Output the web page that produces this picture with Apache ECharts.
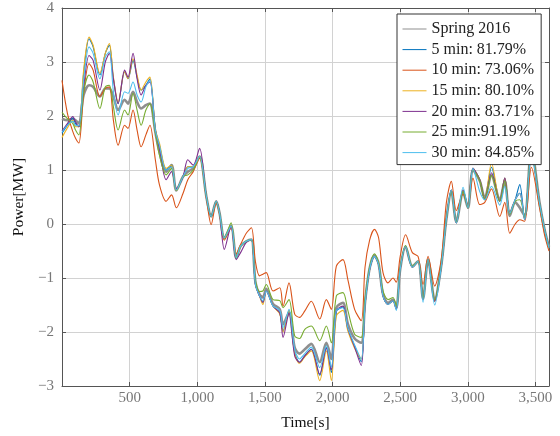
<!DOCTYPE html>
<html>
<head>
<meta charset="utf-8">
<script src="https://cdn.jsdelivr.net/npm/echarts@6/dist/echarts.min.js"></script>
<style>
  html, body { margin: 0; padding: 0; background: #fff; }
  #chart { width: 560px; height: 436px; }
</style>
</head>
<body>
<div id="chart"></div>
<script>
const times = [0, 40, 80, 100, 125, 160, 200, 230, 280, 320, 350, 380, 415, 463, 488, 525, 555, 585, 620, 650,
  690, 720, 770, 810, 845, 895, 930, 970, 1017, 1067, 1103, 1140, 1165, 1200, 1250, 1288, 1320, 1362, 1400, 1430,
  1460, 1485, 1510, 1560, 1610, 1634, 1678, 1720, 1756, 1795, 1843, 1905, 1954, 1991, 2028, 2077, 2113, 2163, 2212, 2240,
  2274, 2310, 2340, 2373, 2410, 2447, 2471, 2500, 2540, 2590, 2632, 2669, 2706, 2755, 2804, 2841, 2878, 2915, 2965, 3001,
  3038, 3088, 3125, 3175, 3236, 3273, 3310, 3350, 3384, 3420, 3470, 3530, 3567, 3600]

const spring2016 = [1.95, 1.92, 1.95, 1.92, 1.86, 2.39, 2.57, 2.54, 2.36, 2.51, 2.51, 2.36, 2.11, 2.30, 2.23,
  2.45, 2.26, 2.14, 2.20, 2.23, 1.70, 1.34, 0.97, 1.09, 0.62, 0.88, 0.97, 1.03, 1.25, 0.51,
  0.14, 0.42, 0.20, -0.26, -0.04, -0.63, -0.41, -0.32, -0.29, -1.08, -1.30, -1.36, -1.20, -1.48, -1.58,
  -1.86, -1.64, -2.29, -2.40, -2.32, -2.22, -2.56, -2.20, -2.50, -1.55, -1.46, -1.85, -2.12, -2.20, -1.45,
  -0.82, -0.58, -0.73, -1.30, -1.46, -1.40, -1.55, -0.84, -0.42, -0.78, -0.69, -1.38, -0.66, -1.40, -0.76,
  0.08, 0.60, 0.04, 0.58, 0.30, 1.00, 0.80, 0.48, 0.90, 0.45, 0.80, 0.15, 0.40, 0.30, 0.15,
  1.40, 0.40, -0.10, -0.42]

const min5 = [1.68, 1.83, 1.96, 1.86, 1.80, 2.79, 3.43, 3.28, 2.76, 3.16, 3.31, 2.69, 2.23, 2.82, 2.69,
  3.03, 2.72, 2.48, 2.57, 2.69, 1.74, 1.46, 1.00, 1.09, 0.63, 0.88, 1.06, 1.06, 1.25, 0.51,
  0.14, 0.42, 0.20, -0.26, -0.04, -0.63, -0.41, -0.32, -0.29, -1.12, -1.33, -1.45, -1.24, -1.52, -1.65,
  -1.98, -1.60, -2.38, -2.56, -2.44, -2.32, -2.80, -2.29, -2.75, -1.62, -1.54, -1.95, -2.26, -2.55, -1.50,
  -0.84, -0.60, -0.75, -1.33, -1.49, -1.42, -1.58, -0.84, -0.42, -0.80, -0.69, -1.40, -0.66, -1.43, -0.78,
  0.08, 0.63, 0.02, 0.63, 0.30, 1.03, 0.82, 0.45, 1.05, 0.42, 0.85, 0.20, 0.45, 0.73, 0.08,
  1.35, 0.39, -0.10, -0.44]

const min10 = [2.66, 2.05, 1.71, 1.59, 1.50, 2.42, 2.97, 2.85, 2.36, 2.51, 2.54, 1.92, 1.46, 1.83, 1.77,
  2.11, 1.74, 1.43, 1.65, 1.83, 1.19, 0.73, 0.42, 0.54, 0.30, 0.57, 0.82, 0.97, 1.22, 0.48,
  -0.01, 0.38, 0.18, -0.30, -0.07, -0.55, -0.38, -0.17, -0.07, -0.70, -0.96, -0.93, -0.90, -1.24, -1.18,
  -1.52, -1.09, -1.67, -1.73, -1.61, -1.43, -1.76, -1.40, -1.58, -0.78, -0.66, -1.03, -1.58, -1.79, -0.80,
  -0.30, -0.10, -0.25, -0.90, -1.09, -1.00, -1.08, -0.60, -0.20, -0.53, -0.60, -1.12, -0.60, -1.15, -0.65,
  0.39, 0.79, 0.25, 0.55, 0.35, 0.85, 0.36, 0.40, 0.65, 0.14, 0.40, -0.17, 0.00, 0.08, 0.05,
  1.05, 0.30, -0.20, -0.50]

const min15 = [1.60, 1.78, 1.92, 1.80, 1.80, 2.85, 3.46, 3.31, 2.79, 3.16, 3.34, 2.72, 2.26, 2.82, 2.69,
  3.06, 2.76, 2.48, 2.63, 2.72, 1.76, 1.50, 1.03, 1.09, 0.62, 0.88, 1.06, 1.06, 1.25, 0.51,
  0.14, 0.42, 0.20, -0.26, -0.04, -0.63, -0.41, -0.32, -0.29, -1.12, -1.33, -1.49, -1.24, -1.52, -1.67,
  -2.00, -1.60, -2.40, -2.58, -2.46, -2.35, -2.90, -2.35, -2.90, -1.70, -1.60, -1.98, -2.30, -2.50, -1.50,
  -0.84, -0.60, -0.75, -1.33, -1.49, -1.42, -1.58, -0.84, -0.42, -0.80, -0.69, -1.40, -0.66, -1.43, -0.78,
  0.08, 0.63, 0.02, 0.63, 0.30, 1.03, 0.82, 0.45, 1.13, 0.42, 0.85, 0.20, 0.45, 0.57, 0.08,
  1.35, 0.39, -0.10, -0.44]

const min20 = [1.72, 1.86, 1.99, 1.89, 1.80, 2.54, 3.12, 3.03, 2.48, 3.00, 3.16, 2.69, 2.23, 2.85, 2.72,
  3.16, 2.69, 2.39, 2.57, 2.63, 1.74, 1.40, 0.82, 0.97, 0.66, 0.88, 1.19, 1.09, 1.40, 0.51,
  0.14, 0.42, 0.20, -0.47, -0.04, -0.66, -0.53, -0.34, -0.29, -1.12, -1.33, -1.45, -1.24, -1.52, -1.65,
  -2.10, -1.65, -2.44, -2.56, -2.44, -2.32, -2.78, -2.30, -2.70, -1.60, -1.52, -1.93, -2.28, -2.62, -1.50,
  -0.84, -0.60, -0.75, -1.33, -1.49, -1.42, -1.58, -0.84, -0.42, -0.80, -0.69, -1.40, -0.66, -1.43, -0.78,
  0.08, 0.63, 0.02, 0.63, 0.30, 1.03, 0.82, 0.45, 0.95, 0.42, 0.85, 0.20, 0.45, 0.57, 0.08,
  1.35, 0.39, -0.10, -0.44]

const min25 = [2.07, 1.95, 1.86, 1.74, 1.65, 2.45, 2.76, 2.63, 2.14, 2.54, 2.57, 2.17, 1.74, 2.11, 2.02,
  2.42, 2.11, 1.83, 2.11, 2.23, 1.70, 1.28, 0.91, 1.03, 0.62, 0.88, 0.91, 1.00, 1.25, 0.51,
  0.14, 0.42, 0.20, -0.26, 0.02, -0.63, -0.41, -0.32, -0.29, -1.05, -1.25, -1.24, -1.12, -1.40, -1.42,
  -1.55, -1.40, -2.07, -2.12, -1.95, -1.89, -2.16, -1.89, -2.20, -1.33, -1.27, -1.60, -2.04, -2.10, -1.40,
  -0.80, -0.55, -0.72, -1.24, -1.40, -1.36, -1.52, -0.82, -0.40, -0.78, -0.69, -1.38, -0.66, -1.40, -0.76,
  0.08, 0.60, 0.04, 0.60, 0.30, 1.00, 0.80, 0.45, 0.90, 0.42, 0.80, 0.18, 0.42, 0.45, 0.12,
  1.38, 0.39, -0.10, -0.44]

const min30 = [1.70, 1.83, 1.90, 1.83, 1.82, 2.66, 3.28, 3.16, 2.69, 3.09, 3.19, 2.45, 2.02, 2.45, 2.42,
  2.63, 2.39, 2.26, 2.54, 2.66, 1.74, 1.46, 1.00, 1.06, 0.63, 0.88, 1.03, 1.06, 1.25, 0.51,
  0.14, 0.42, 0.20, -0.26, -0.04, -0.63, -0.41, -0.32, -0.29, -1.12, -1.33, -1.42, -1.24, -1.52, -1.60,
  -1.92, -1.58, -2.32, -2.50, -2.40, -2.28, -2.66, -2.25, -2.65, -1.60, -1.55, -1.92, -2.24, -2.50, -1.50,
  -0.84, -0.60, -0.75, -1.33, -1.49, -1.42, -1.60, -0.84, -0.42, -0.80, -0.69, -1.45, -0.66, -1.50, -0.78,
  0.08, 0.63, 0.02, 0.68, 0.30, 1.03, 0.60, 0.45, 0.70, 0.35, 0.70, 0.20, 0.45, 0.57, 0.08,
  1.30, 0.39, -0.10, -0.44]

const seriesNames = ['Spring 2016', '5 min: 81.79%', '10 min: 73.06%', '15 min: 80.10%',
  '20 min: 83.71%', '25 min:91.19%', '30 min: 84.85%']
const seriesValues = [spring2016, min5, min10, min15, min20, min25, min30]
const colors = ['#8f8f8f', '#0072BD', '#D95319', '#EDB120', '#7E2F8E', '#77AC30', '#4DBEEE']

const serif = "'Liberation Serif', 'DejaVu Serif', serif"
const chart = echarts.init(document.getElementById('chart'))

const fmtX = v => (v === 0 || v === 3600) ? '' : v.toLocaleString('en-US')
const fmtY = v => String(v).replace('-', '\u2212')

const tickStyle = { show: true, inside: true, length: 4, lineStyle: { color: '#555', width: 1 } }
const frameLine = { show: true, onZero: false, lineStyle: { color: '#555', width: 1 } }

chart.setOption({
  animation: false,
  color: colors,
  grid: { left: 62, top: 8, right: 11, bottom: 49 },
  legend: {
    orient: 'vertical',
    left: 397,
    top: 14,
    padding: [7, 7, 4, 5],
    itemGap: 4.6,
    itemWidth: 24,
    itemHeight: 14,
    itemStyle: { opacity: 0 },
    lineStyle: { width: 1 },
    backgroundColor: '#fff',
    borderColor: '#333',
    borderWidth: 1,
    textStyle: { fontFamily: serif, fontSize: 16, lineHeight: 15, color: '#222' },
    data: seriesNames
  },
  xAxis: [{
    type: 'value', min: 0, max: 3600, interval: 500,
    name: 'Time[s]', nameLocation: 'middle', nameGap: 29,
    nameTextStyle: { fontFamily: serif, fontSize: 15.5, color: '#111' },
    axisLine: frameLine, axisTick: tickStyle,
    axisLabel: { formatter: fmtX, fontFamily: serif, fontSize: 15, color: '#777', margin: 5 },
    splitLine: { show: true, lineStyle: { color: '#d2d2d2', width: 1 } }
  }, {
    type: 'value', min: 0, max: 3600, interval: 500, position: 'top',
    axisLine: frameLine, axisTick: tickStyle, axisLabel: { show: false }, splitLine: { show: false }
  }],
  yAxis: [{
    type: 'value', min: -3, max: 4, interval: 1,
    name: 'Power[MW]', nameLocation: 'middle', nameGap: 34,
    nameTextStyle: { fontFamily: serif, fontSize: 15.5, color: '#111' },
    axisLine: frameLine, axisTick: tickStyle,
    axisLabel: { formatter: fmtY, fontFamily: serif, fontSize: 15, color: '#777', margin: 8 },
    splitLine: { show: true, lineStyle: { color: '#d2d2d2', width: 1 } }
  }, {
    type: 'value', min: -3, max: 4, interval: 1, position: 'right',
    axisLine: frameLine, axisTick: tickStyle, axisLabel: { show: false }, splitLine: { show: false }
  }],
  series: seriesNames.map((name, k) => ({
    name,
    type: 'line',
    symbol: 'none',
    smooth: 0.3,
    lineStyle: { width: k === 0 ? 2.6 : 1.1 },
    z: k === 0 ? 2 : 3,
    data: times.map((t, i) => [t, seriesValues[k][i]])
  }))
})
</script>
</body>
</html>
